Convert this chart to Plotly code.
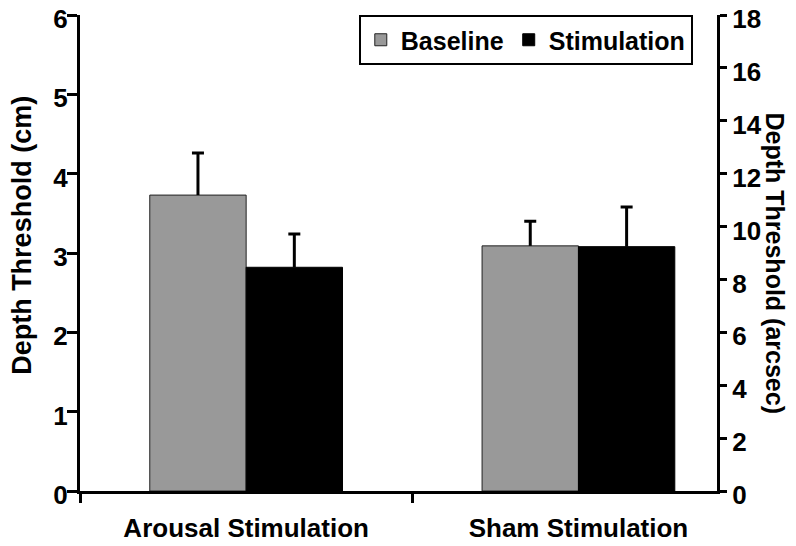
import plotly.graph_objects as go

categories = ["Arousal Stimulation", "Sham Stimulation"]
baseline = [3.73, 3.09]
baseline_err = [0.53, 0.31]
stimulation = [2.82, 3.08]
stimulation_err = [0.42, 0.50]
left_ticks = [0, 1, 2, 3, 4, 5, 6]
right_ticks = [0, 2, 4, 6, 8, 10, 12, 14, 16, 18]

FONT = "Liberation Sans, Arial, sans-serif"
STEM_W = 0.009  # whisker stem width in category units

fig = go.Figure()
fig.add_trace(go.Bar(
    name="Baseline", x=categories, y=baseline, offsetgroup="base",
    marker=dict(color="#999999", line=dict(color="#222222", width=1)),
))
fig.add_trace(go.Bar(
    name="Stimulation", x=categories, y=stimulation, offsetgroup="stim",
    marker=dict(color="black", line=dict(color="black", width=1)),
))
# upper-only whiskers: thin bars from the bar top up by the error, with a cap
for vals, errs, grp in [(baseline, baseline_err, "base"), (stimulation, stimulation_err, "stim")]:
    fig.add_trace(go.Bar(
        x=categories, y=errs, base=vals, offsetgroup=grp, width=STEM_W,
        marker=dict(color="black", line=dict(width=0)), showlegend=False, hoverinfo="skip",
        error_y=dict(type="data", array=[0] * len(errs), color="black", thickness=3, width=6),
    ))
# invisible trace to anchor the right axis (arcsec)
fig.add_trace(go.Scatter(x=categories, y=[None, None], yaxis="y2", showlegend=False,
                         hoverinfo="skip", mode="markers", marker=dict(opacity=0)))

fig.update_layout(
    template="none",
    width=788, height=538,
    margin=dict(l=72, r=79, t=7, b=55, autoexpand=False),
    paper_bgcolor="white", plot_bgcolor="white",
    barmode="group", bargap=0.42, bargroupgap=0,
    font=dict(family=FONT, color="black"),
    showlegend=True,
    legend=dict(
        orientation="h", x=0.962, xanchor="right", y=1.0, yanchor="top",
        bordercolor="black", borderwidth=2, bgcolor="white",
        font=dict(family=FONT, size=25, color="black", weight="bold"),
        itemwidth=30, tracegroupgap=0,
    ),
    xaxis=dict(
        type="category", range=[-0.5, 1.417], automargin=False,
        showline=True, linecolor="black", linewidth=3,
        ticks="outside", tickson="boundaries", ticklen=9, tickwidth=3, tickcolor="black",
        tickfont=dict(family=FONT, size=26, weight="bold"),
        ticklabelstandoff=12, showgrid=False, zeroline=False,
    ),
    yaxis=dict(
        range=[0, 6], tickvals=left_ticks, automargin=False,
        showline=True, linecolor="black", linewidth=3,
        ticks="outside", ticklen=10, tickwidth=3, tickcolor="black",
        tickfont=dict(family=FONT, size=26, weight="bold"),
        ticklabelstandoff=-6, ticklabelshift=4, ticklabeloverflow="allow",
        showgrid=False, zeroline=False,
    ),
    yaxis2=dict(
        range=[0, 18], tickvals=right_ticks, overlaying="y", side="right", automargin=False,
        showline=True, linecolor="black", linewidth=3,
        ticks="outside", ticklen=7, tickwidth=3, tickcolor="black",
        tickfont=dict(family=FONT, size=26, weight="bold"),
        ticklabelshift=4, ticklabeloverflow="allow",
        showgrid=False, zeroline=False,
    ),
    annotations=[
        dict(
            text="Depth Threshold (cm)", textangle=-90,
            xref="paper", yref="paper", x=0.0, y=0.536, xanchor="center", yanchor="middle",
            xshift=-58, showarrow=False,
            font=dict(family=FONT, size=27, color="black", weight="bold"),
        ),
        dict(
            text="Depth Threshold (arcsec)", textangle=90,
            xref="paper", yref="paper", x=1.0, y=0.48, xanchor="center", yanchor="middle",
            xshift=58, showarrow=False,
            font=dict(family=FONT, size=25, color="black", weight="bold"),
        ),
    ],
)

fig.write_html("out.html")
